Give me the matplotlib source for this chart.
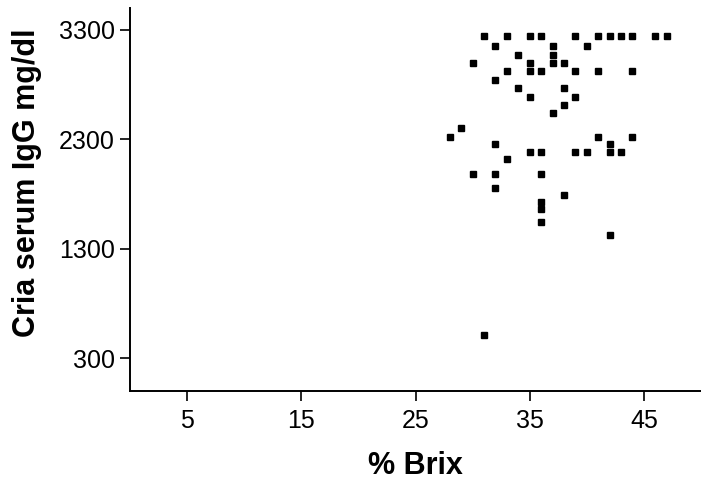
import matplotlib
matplotlib.use("Agg")
import matplotlib.pyplot as plt

plt.rcParams['font.family'] = ['Liberation Sans', 'DejaVu Sans']

brix = [31, 33, 35, 36, 39, 41, 42, 43, 44, 46, 47,
        32, 37, 40,
        34, 37,
        30, 35, 37, 38,
        33, 35, 36, 39, 41, 44,
        32,
        34, 38,
        35, 39,
        38,
        37,
        29,
        28, 41, 44,
        32, 42,
        35, 36, 39, 40, 42, 43,
        33,
        30, 32, 36,
        32,
        38,
        36,
        36,
        36,
        42,
        31]
igg = [3240] * 11 + \
      [3150] * 3 + \
      [3075] * 2 + \
      [3000] * 4 + \
      [2920] * 6 + \
      [2840] + \
      [2765] * 2 + \
      [2690] * 2 + \
      [2610] + \
      [2540] + \
      [2400] + \
      [2325] * 3 + \
      [2255] * 2 + \
      [2185] * 6 + \
      [2120] + \
      [1985] * 3 + \
      [1855] + \
      [1790] + \
      [1730] + \
      [1665] + \
      [1540] + \
      [1425] + \
      [515]

xticks = [5, 15, 25, 35, 45]
yticks = [300, 1300, 2300, 3300]

fig = plt.figure(figsize=(7.01, 4.86), dpi=100)
ax = fig.add_axes([130 / 701, 1 - 391 / 486, 1 - 130 / 701, (391 - 8) / 486])
ax.plot(brix, igg, linestyle='none', marker='s', markersize=5, color='black')
ax.set_xlim(0, 50)
ax.set_ylim(0, 3500)
ax.set_xticks(xticks)
ax.set_yticks(yticks)
ax.spines['top'].set_visible(False)
ax.spines['right'].set_visible(False)
for s in ['left', 'bottom']:
    ax.spines[s].set_linewidth(1.4)
ax.tick_params(direction='out', length=7, width=1.2, labelsize=18, pad=4)
ax.tick_params(axis='x', pad=6)
ax.set_xlabel('% Brix', fontsize=22, fontweight='bold')
ax.xaxis.set_label_coords(0.5, -0.235)
ax.xaxis.label.set_va('bottom')
ax.set_ylabel('Cria serum IgG mg/dl', fontsize=22, fontweight='bold')
ax.yaxis.set_label_coords(-0.154, 0.543)
fig.savefig('out.png', dpi=100)
